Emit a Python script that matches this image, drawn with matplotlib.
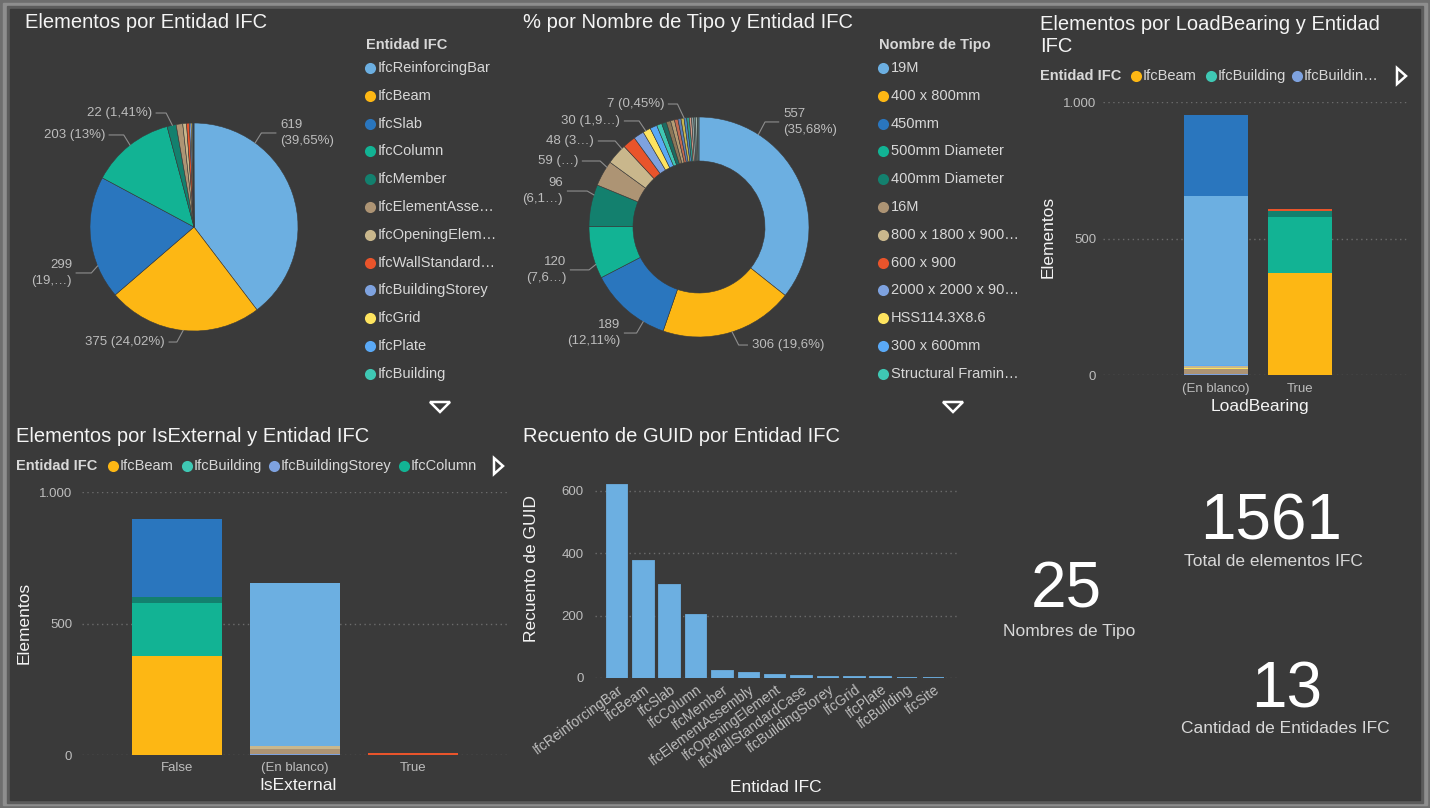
import matplotlib.pyplot as plt
from matplotlib.patches import Rectangle, Polygon
import numpy as np

plt.rcParams['font.family'] = ['Liberation Sans', 'DejaVu Sans']

W, H = 1430, 808
PANEL = '#3a3a3a'
TITLE = '#f4f4f4'
TEXT = '#d8d8d8'
TICK = '#bdbdbd'
GRID = '#6c6c6c'
LEADER = '#8e8e8e'

# ---------------- data ----------------
entities = ["IfcReinforcingBar", "IfcBeam", "IfcSlab", "IfcColumn", "IfcMember",
            "IfcElementAssembly", "IfcOpeningElement", "IfcWallStandardCase",
            "IfcBuildingStorey", "IfcGrid", "IfcPlate", "IfcBuilding", "IfcSite"]
entity_counts = [619, 375, 299, 203, 22, 16, 9, 7, 4, 3, 2, 1, 1]
entity_legend = ["IfcReinforcingBar", "IfcBeam", "IfcSlab", "IfcColumn", "IfcMember",
                 "IfcElementAsse…", "IfcOpeningElem…", "IfcWallStandard…",
                 "IfcBuildingStorey", "IfcGrid", "IfcPlate", "IfcBuilding"]

type_legend = ["19M", "400 x 800mm", "450mm", "500mm Diameter", "400mm Diameter", "16M",
               "800 x 1800 x 900…", "600 x 900", "2000 x 2000 x 90…", "HSS114.3X8.6",
               "300 x 600mm", "Structural Framin…"]
type_counts = [557, 306, 189, 120, 96, 59, 48, 30, 24, 18, 16, 12,
               11, 10, 9, 8, 7, 7, 6, 6, 5, 5, 4, 4, 4]

# stacking order (alphabetical, as the legend)
stack_order = ["IfcBeam", "IfcBuilding", "IfcBuildingStorey", "IfcColumn",
               "IfcElementAssembly", "IfcGrid", "IfcMember", "IfcOpeningElement",
               "IfcPlate", "IfcReinforcingBar", "IfcSite", "IfcSlab", "IfcWallStandardCase"]

lb_cats = ["(En blanco)", "True"]
lb_blank = [0, 1, 4, 0, 16, 3, 0, 9, 2, 619, 1, 299, 0]
lb_true = [375, 0, 0, 203, 0, 0, 22, 0, 0, 0, 0, 0, 7]

ie_cats = ["False", "(En blanco)", "True"]
ie_false = [375, 0, 0, 203, 0, 0, 22, 0, 0, 0, 0, 299, 0]
ie_blank = [0, 1, 4, 0, 16, 3, 0, 9, 2, 619, 1, 0, 0]
ie_true = [0, 0, 0, 0, 0, 0, 0, 0, 0, 0, 0, 0, 7]

kpi_types = 25
kpi_total = 1561
kpi_entities = 13

base_colors = ['#6cafe1', '#fdb714', '#2a76be', '#12b394', '#13806e', '#ad9474',
               '#c9b78c', '#e9542b', '#7ea2df', '#fee45f', '#5aa9f6', '#3fc8b4']
extra_colors = ['#1d6b60', '#8b7658', '#b49c74', '#c46a50', '#5c7fb5', '#c8b64e',
                '#4b87c2', '#2f9c8c', '#d09a88', '#8fa3a3', '#6a8c8a', '#a4b8b0', '#4f6e6e']
entity_colors = dict(zip(entities, base_colors + ['#2f6f8f']))
type_colors = base_colors + extra_colors

# ---------------- figure ----------------
fig = plt.figure(figsize=(W / 100, H / 100), dpi=100)
fig.patch.set_facecolor('#6e6e6e')
bg = fig.add_axes([0, 0, 1, 1])
bg.set_xlim(0, W)
bg.set_ylim(H, 0)
bg.axis('off')
bg.add_patch(Rectangle((3, 3), W - 6, H - 6, color='#8e8e8e'))
bg.add_patch(Rectangle((7, 6), W - 14, H - 11, color='#5c5c5c'))
bg.add_patch(Rectangle((10, 9), W - 20, H - 17, color=PANEL))


def px_axes(x0, y0, x1, y1):
    ax = fig.add_axes([x0 / W, 1 - y1 / H, (x1 - x0) / W, (y1 - y0) / H])
    ax.set_facecolor('none')
    return ax


def title(x, y, s):
    # y is the baseline of the last line
    bg.text(x, y, s, fontsize=14.5, color=TITLE, ha='left', va='baseline', linespacing=1.2)


def col_legend(x_mark, x_text, head, labels, colors):
    bg.text(x_mark - 4, 45, head, fontsize=10.5, fontweight='bold', color=TEXT, va='center')
    for i, (lab, c) in enumerate(zip(labels, colors)):
        y = 68 + i * 27.8
        bg.plot(x_mark, y, 'o', ms=8, color=c, mec='none')
        bg.text(x_text, y, lab, fontsize=10.5, color=TEXT, va='center')


def row_legend(x_head, y, items):
    bg.text(x_head, y, "Entidad IFC", fontsize=10.5, fontweight='bold', color=TEXT, va='center')
    for xm, lab in items:
        bg.plot(xm, y, 'o', ms=8, color=entity_colors.get(lab.rstrip('…'), '#7ea2df'), mec='none')
        bg.text(xm + 7, y, lab, fontsize=10.5, color=TEXT, va='center')


def slice_labels(ax, counts, specs):
    total = sum(counts)
    for idx, ang, tx, ty, two, cut in specs:
        v = counts[idx]
        pct = f"{100 * v / total:.2f}".rstrip('0').rstrip('.').replace('.', ',')
        pct = pct + '%' if cut is None else pct[:cut] + '…'
        txt = f"{v}\n({pct})" if two else f"{v} ({pct})"
        ex, ey = np.cos(np.radians(ang)), np.sin(np.radians(ang))
        side = 1 if tx > ex else -1
        ax.plot([ex, ex + side * 0.06, tx - side * 0.04], [ey, ty, ty],
                color=LEADER, lw=0.8, clip_on=False)
        ax.text(tx, ty, txt, ha='left' if side > 0 else 'right', va='center',
                fontsize=9.5, color=TICK, linespacing=1.4, clip_on=False)


def bar_axes_style(ax, ticks, ticklabels, ypad, xpad):
    for sp in ax.spines.values():
        sp.set_visible(False)
    ax.set_yticks(ticks)
    ax.set_yticklabels(ticklabels)
    ax.tick_params(length=0, colors=TICK, labelsize=9.5)
    ax.tick_params(axis='y', pad=ypad)
    ax.tick_params(axis='x', pad=xpad)
    ax.grid(axis='y', color=GRID, linestyle=(0, (1, 2.5)), lw=1)
    ax.set_axisbelow(True)


def stacked(ax, cats, columns):
    x = np.arange(len(cats))
    bottom = np.zeros(len(cats))
    for i, ent in enumerate(stack_order):
        vals = np.array([col[i] for col in columns])
        ax.bar(x, vals, bottom=bottom, width=0.76, color=entity_colors[ent], lw=0)
        bottom += vals
    ax.set_xticks(x)
    ax.set_xticklabels(cats)


# ---- pie: Elementos por Entidad IFC ----
title(25, 28, "Elementos por Entidad IFC")
ax = px_axes(194 - 150, 227 - 150, 194 + 150, 227 + 150)
ax.pie(entity_counts, colors=[entity_colors[e] for e in entities], startangle=90,
       counterclock=False, radius=1, wedgeprops=dict(lw=0.4, edgecolor=PANEL))
s = 150 / 104
ax.set_xlim(-s, s)
ax.set_ylim(-s, s)
ax.axis('off')
slice_labels(ax, entity_counts, [
    (0, 54, 0.827, 0.904, True, None),
    (1, -96, -0.279, -1.106, False, None),
    (2, 202, -1.173, -0.442, True, 3),
    (3, 128, -0.856, 0.885, False, None),
    (4, 102, -0.404, 1.096, False, None),
])
col_legend(370, 378, "Entidad IFC", entity_legend, base_colors)
bg.add_patch(Polygon([(430, 402), (450, 402), (440, 412)], closed=True, fill=False,
                     ec='white', lw=1.8))

# ---- donut: % por Nombre de Tipo ----
title(523, 28, "% por Nombre de Tipo y Entidad IFC")
ax = px_axes(699 - 150, 227 - 150, 699 + 150, 227 + 150)
ax.pie(type_counts, colors=type_colors, startangle=90, counterclock=False, radius=1,
       wedgeprops=dict(width=0.4, lw=0.4, edgecolor=PANEL))
s = 150 / 110
ax.set_xlim(-s, s)
ax.set_ylim(-s, s)
ax.axis('off')
slice_labels(ax, type_counts, [
    (0, 57.3, 0.764, 0.955, True, None),
    (1, -72.5, 0.48, -1.073, False, None),
    (2, -120.5, -0.718, -0.964, True, None),
    (3, -160, -1.209, -0.39, True, 3),
    (4, 163, -1.236, 0.327, True, 3),
    (5, 147, -1.10, 0.60, False, 0),
    (6, 134.6, -0.955, 0.782, False, 1),
    (7, 119, -0.718, 0.964, False, 3),
    (17, 97.8, -0.318, 1.118, False, None),
])
col_legend(883, 891, "Nombre de Tipo", type_legend, type_colors)
bg.add_patch(Polygon([(943, 402), (963, 402), (953, 412)], closed=True, fill=False,
                     ec='white', lw=1.8))

# ---- stacked: LoadBearing ----
title(1040, 52, "Elementos por LoadBearing y Entidad\nIFC")
row_legend(1040, 76, [(1136, "IfcBeam"), (1211, "IfcBuilding"), (1297, "IfcBuildin…")])
bg.add_patch(Polygon([(1397, 68), (1397, 84), (1406, 76)], closed=True, fill=False,
                     ec='white', lw=1.8))
ax = px_axes(1103, 102, 1408, 375)
stacked(ax, lb_cats, [lb_blank, lb_true])
ax.set_xlim(-1.345, 2.286)
ax.set_ylim(0, 1000)
bar_axes_style(ax, [0, 500, 1000], ["0", "500", "1.000"], 5, 6)
bg.text(1048, 237, "Elementos", rotation=90, fontsize=12.5, color=TITLE, ha='center', va='center')
bg.text(1260, 406, "LoadBearing", fontsize=12.5, color=TITLE, ha='center', va='center')

# ---- stacked: IsExternal ----
title(16, 442, "Elementos por IsExternal y Entidad IFC")
row_legend(16, 466, [(113, "IfcBeam"), (187, "IfcBuilding"), (274, "IfcBuildingStorey"),
                     (404, "IfcColumn")])
bg.add_patch(Polygon([(494, 458), (494, 474), (503, 466)], closed=True, fill=False,
                     ec='white', lw=1.8))
ax = px_axes(82, 492, 510, 755)
stacked(ax, ie_cats, [ie_false, ie_blank, ie_true])
ax.set_xlim(-0.805, 2.82)
ax.set_ylim(0, 1000)
bar_axes_style(ax, [0, 500, 1000], ["0", "500", "1.000"], 7, 5)
bg.text(24, 623, "Elementos", rotation=90, fontsize=12.5, color=TITLE, ha='center', va='center')
bg.text(298, 786, "IsExternal", fontsize=12.5, color=TITLE, ha='center', va='center')

# ---- bars: Recuento de GUID ----
title(523, 442, "Recuento de GUID por Entidad IFC")
ax = px_axes(595, 475, 958, 678)
x = np.arange(len(entities))
ax.bar(x, entity_counts, width=0.78, color=base_colors[0], edgecolor=base_colors[0], lw=1.3)
ax.set_xlim(-0.83, 12.93)
ax.set_ylim(0, 651)
ax.set_xticks(x)
ax.set_xticklabels(entities, rotation=36, ha='right', rotation_mode='anchor')
bar_axes_style(ax, [0, 200, 400, 600], ["0", "200", "400", "600"], 8, 3)
for lab in ax.get_xticklabels():
    lab.set_fontsize(10)
bg.text(531, 569, "Recuento de GUID", rotation=90, fontsize=12.5, color=TITLE,
        ha='center', va='center')
bg.text(776, 787, "Entidad IFC", fontsize=12.5, color=TITLE, ha='center', va='center')

# ---- cards ----
bg.text(1271, 540, f"{kpi_total}", fontsize=46, color='white', ha='center', va='baseline')
bg.text(1273, 566, "Total de elementos IFC", fontsize=12.5, color=TEXT, ha='center', va='baseline')
bg.text(1066, 608, f"{kpi_types}", fontsize=46, color='white', ha='center', va='baseline')
bg.text(1069, 636, "Nombres de Tipo", fontsize=12.5, color=TEXT, ha='center', va='baseline')
bg.text(1287, 707, f"{kpi_entities}", fontsize=46, color='white', ha='center', va='baseline')
bg.text(1285, 733, "Cantidad de Entidades IFC", fontsize=12.5, color=TEXT, ha='center', va='baseline')

fig.savefig('out.png', dpi=100, facecolor=fig.get_facecolor())
